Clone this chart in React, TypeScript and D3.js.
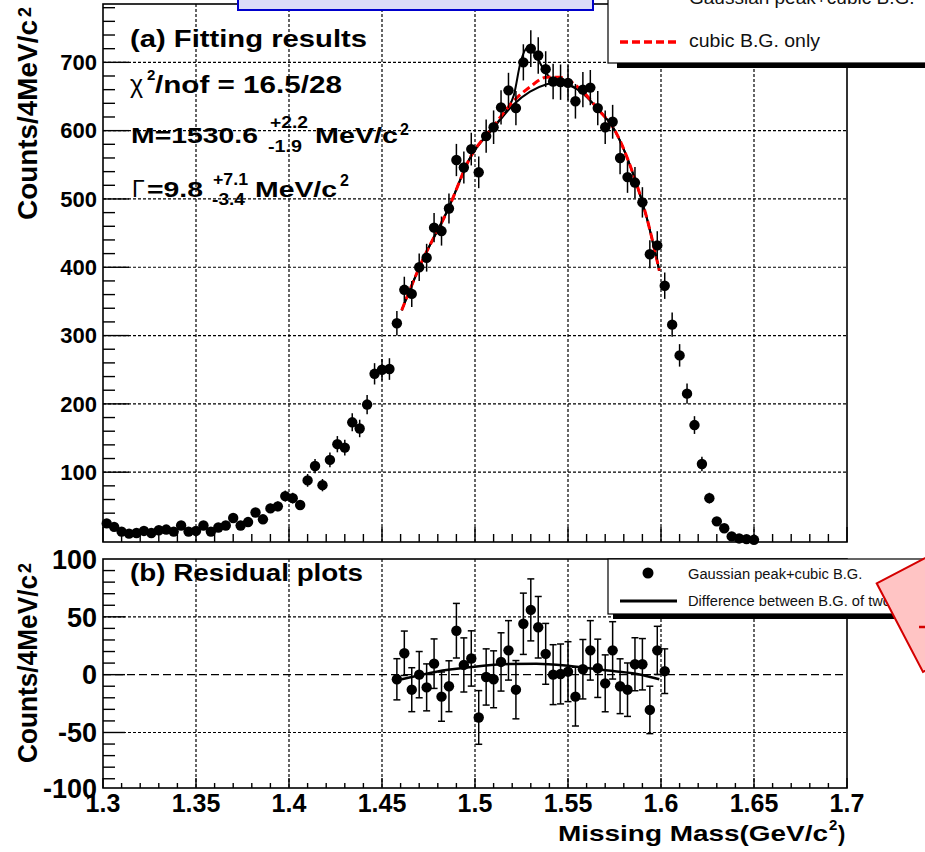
import React from "react";
import * as d3 from "d3";

// ---------------- data ----------------
const binCenters = [
  1.302, 1.306, 1.31, 1.314, 1.318, 1.322, 1.326, 1.33, 1.334, 1.338, 1.342, 1.346, 1.35, 1.354, 1.358,
  1.362, 1.366, 1.37, 1.374, 1.378, 1.382, 1.386, 1.39, 1.394, 1.398, 1.402, 1.406, 1.41, 1.414, 1.418,
  1.422, 1.426, 1.43, 1.434, 1.438, 1.442, 1.446, 1.45, 1.454, 1.458, 1.462, 1.466, 1.47, 1.474, 1.478,
  1.482, 1.486, 1.49, 1.494, 1.498, 1.502, 1.506, 1.51, 1.514, 1.518, 1.522, 1.526, 1.53, 1.534, 1.538,
  1.542, 1.546, 1.55, 1.554, 1.558, 1.562, 1.566, 1.57, 1.574, 1.578, 1.582, 1.586, 1.59, 1.594, 1.598,
  1.602, 1.606, 1.61, 1.614, 1.618, 1.622, 1.626, 1.63, 1.634, 1.638, 1.642, 1.646, 1.65,
];
const counts = [
  25, 20, 13, 10, 11, 14, 11, 15, 16, 13, 22, 13, 14, 22, 13,
  19, 22, 33, 22, 27, 41, 31, 47, 50, 65, 62, 52, 88, 109, 81,
  118, 141, 136, 173, 164, 199, 244, 250, 251, 318, 367, 361, 400, 414, 458,
  453, 486, 557, 546, 573, 539, 592, 605, 634, 659, 633, 700, 720, 710, 690,
  672, 671, 670, 643, 660, 663, 633, 605, 613, 560, 532, 524, 495, 419, 432,
  373, 316, 271, 215, 169, 112, 62, 28, 18, 6, 3, 2, 1,
];

const residualMass = [
  1.458, 1.462, 1.466, 1.47, 1.474, 1.478, 1.482, 1.486, 1.49, 1.494, 1.498, 1.502, 1.506, 1.51, 1.514,
  1.518, 1.522, 1.526, 1.53, 1.534, 1.538, 1.542, 1.546, 1.55, 1.554, 1.558, 1.562, 1.566, 1.57, 1.574,
  1.578, 1.582, 1.586, 1.59, 1.594, 1.598, 1.602,
];
const residuals = [
  -4, 18.5, -13, 0, -11, 9.5, -19, -10, 38, 8.4, 14, -37, -2, -4, 11,
  21, -13, 44, 56, 41, 18, 0, 0.6, 2.6, -19, 4.7, 21, 5.5, -7.5, 21,
  -10, -13, 9, 9, -30.5, 21, 3,
];
const residualErrors = [
  17.8, 19.2, 19.0, 20.0, 20.3, 21.4, 21.3, 22.0, 23.6, 23.4, 23.9, 23.2, 24.3, 24.6, 25.2,
  25.7, 25.2, 26.5, 26.8, 26.6, 26.3, 25.9, 25.9, 25.9, 25.4, 25.7, 25.7, 25.2, 24.6, 24.8,
  23.7, 23.1, 22.9, 22.2, 20.5, 20.8, 19.3,
];

// fit curves: [mass, counts]
const fitTotal: [number, number][] = [
  [1.4606, 337], [1.4704, 402], [1.4857, 486], [1.4973, 560], [1.5098, 605], [1.517, 630],
  [1.5209, 652], [1.5245, 700], [1.5285, 722], [1.5325, 711], [1.5366, 691], [1.541, 676],
  [1.5457, 671], [1.5565, 658], [1.5672, 628], [1.5744, 604], [1.5851, 536], [1.5923, 473], [1.5991, 395],
];
const fitBGofTotal: [number, number][] = [
  [1.4606, 337], [1.4704, 402], [1.4857, 486], [1.4973, 560], [1.5098, 603], [1.5206, 638],
  [1.5296, 657], [1.5385, 668], [1.5457, 671], [1.5565, 658], [1.5672, 628], [1.5744, 604],
  [1.5851, 536], [1.5923, 473], [1.5991, 395],
];
const fitBGOnly: [number, number][] = [
  [1.4606, 337], [1.4704, 402], [1.4857, 486], [1.4973, 560], [1.5098, 606], [1.5206, 643],
  [1.5296, 664], [1.5385, 678], [1.5457, 678], [1.5565, 661], [1.5672, 628], [1.5744, 604],
  [1.5851, 536], [1.5923, 473], [1.5991, 395],
];
const bgDifference: [number, number][] = [
  [1.4606, -4], [1.4793, 2.6], [1.4972, 6.4], [1.515, 9], [1.533, 9.5], [1.551, 7.5],
  [1.569, 4], [1.587, 0.6], [1.5991, -4],
];

const xTicks = [1.3, 1.35, 1.4, 1.45, 1.5, 1.55, 1.6, 1.65, 1.7];
const xTickLabels = ["1.3", "1.35", "1.4", "1.45", "1.5", "1.55", "1.6", "1.65", "1.7"];
const yTopTicks = [100, 200, 300, 400, 500, 600, 700];
const yBotTicks = [-100, -50, 0, 50, 100];

// ---------------- layout ----------------
const FONT = "'Liberation Sans', Arial, Helvetica, sans-serif";
const L = 103, R = 847;
const TT = 4, TB = 542;
const BT = 559, BB = 788;

const X = d3.scaleLinear().domain([1.3, 1.7]).range([L, R]);
const yT = d3.scaleLinear().domain([-2.2, 785.4]).range([TB, TT]);
const yB = d3.scaleLinear().domain([-98, 100]).range([BB, BT]);

const T = ({ x, y, fs, w, bold = true, anchor = "start", children, fill = "#000", family = FONT, transform }: any) => (
  <text
    x={x}
    y={y}
    fontSize={fs}
    fontWeight={bold ? "bold" : "normal"}
    textLength={w}
    lengthAdjust={w ? "spacingAndGlyphs" : undefined}
    textAnchor={anchor}
    fontFamily={family}
    fill={fill}
    transform={transform}
  >
    {children}
  </text>
);

export default function App() {
  const minorX = d3.range(0, 41).map((i) => 1.3 + i * 0.01);
  const minorTop = d3.range(1, 40).map((i) => i * 20);
  const minorBot = d3.range(-9, 10).map((i) => i * 10);
  const gridX = xTicks.slice(1, -1);

  const lineT = d3.line<[number, number]>().x((d) => X(d[0])).y((d) => yT(d[1])).curve(d3.curveMonotoneX);
  const lineB = d3.line<[number, number]>().x((d) => X(d[0])).y((d) => yB(d[1])).curve(d3.curveMonotoneX);

  const dot = "3,2";
  return (
    <svg
      width={925}
      height={852}
      style={{ position: "absolute", left: 0, top: 0, background: "#fff" }}
      fontFamily={FONT}
    >
      <rect x={0} y={0} width={925} height={852} fill="#fff" />

      {/* ===== top panel grid ===== */}
      {gridX.map((v) => (
        <line key={"gxt" + v} x1={X(v)} x2={X(v)} y1={TT} y2={TB} stroke="#000" strokeWidth={1.2} strokeDasharray={dot} />
      ))}
      {yTopTicks.map((v) => (
        <line key={"gyt" + v} x1={L} x2={R} y1={yT(v)} y2={yT(v)} stroke="#000" strokeWidth={1.2} strokeDasharray={dot} />
      ))}
      {/* ===== bottom panel grid ===== */}
      {gridX.map((v) => (
        <line key={"gxb" + v} x1={X(v)} x2={X(v)} y1={BT} y2={BB} stroke="#000" strokeWidth={1.2} strokeDasharray={dot} />
      ))}
      {[-50, 50].map((v) => (
        <line key={"gyb" + v} x1={L} x2={R} y1={yB(v)} y2={yB(v)} stroke="#000" strokeWidth={1.2} strokeDasharray={dot} />
      ))}
      <line x1={L} x2={R} y1={yB(0)} y2={yB(0)} stroke="#000" strokeWidth={1.3} strokeDasharray="8,4" />

      {/* ===== frames ===== */}
      <rect x={L} y={TT} width={R - L} height={TB - TT} fill="none" stroke="#000" strokeWidth={1.6} />
      <rect x={L} y={BT} width={R - L} height={BB - BT} fill="none" stroke="#000" strokeWidth={1.6} />

      {/* ===== ticks ===== */}
      {minorX.map((v, i) => {
        const major = i % 5 === 0;
        return (
          <g key={"tx" + i}>
            <line x1={X(v)} x2={X(v)} y1={TB} y2={TB - (major ? 15 : 8)} stroke="#000" strokeWidth={1.4} />
            <line x1={X(v)} x2={X(v)} y1={BB} y2={BB - (major ? 10 : 5)} stroke="#000" strokeWidth={1.4} />
          </g>
        );
      })}
      {minorTop.map((v) => (
        <line key={"tyt" + v} x1={L} x2={L + (v % 100 === 0 ? 26 : 12)} y1={yT(v)} y2={yT(v)} stroke="#000" strokeWidth={1.4} />
      ))}
      {minorBot.map((v) => (
        <line key={"tyb" + v} x1={L} x2={L + (v % 50 === 0 ? 22 : 12)} y1={yB(v)} y2={yB(v)} stroke="#000" strokeWidth={1.4} />
      ))}

      {/* ===== tick labels ===== */}
      {yTopTicks.map((v) => (
        <T key={"lyt" + v} x={97} y={yT(v) + 7.8} fs={22} anchor="end">
          {String(v)}
        </T>
      ))}
      {yBotTicks.map((v) => (
        <T key={"lyb" + v} x={97} y={Math.min(yB(v), BB) + 9.8} fs={27} anchor="end">
          {String(v)}
        </T>
      ))}
      {xTicks.map((v, i) => (
        <T key={"lx" + v} x={X(v)} y={812} fs={25} anchor="middle">
          {xTickLabels[i]}
        </T>
      ))}

      {/* ===== axis titles ===== */}
      <T x={0} y={0} fs={28} w={200} transform="translate(37,220) rotate(-90)">Counts/4MeV/c</T>
      <T x={0} y={0} fs={18} transform="translate(37,220) rotate(-90) translate(203,-6)">2</T>
      <T x={0} y={0} fs={28} w={188} transform="translate(37,763) rotate(-90)">Counts/4MeV/c</T>
      <T x={0} y={0} fs={18} transform="translate(37,763) rotate(-90) translate(190,-6)">2</T>
      <T x={558} y={841} fs={22} w={270}>Missing Mass(GeV/c</T>
      <T x={829} y={830} fs={15}>2</T>
      <T x={838} y={841} fs={22}>)</T>

      {/* ===== top panel fit curves ===== */}
      <path d={lineT(fitBGofTotal) || ""} fill="none" stroke="#000" strokeWidth={2} />
      <path d={lineT(fitTotal) || ""} fill="none" stroke="#000" strokeWidth={2} />
      <path d={lineT(fitBGOnly) || ""} fill="none" stroke="#ff0000" strokeWidth={3} strokeDasharray="8,4" />

      {/* ===== top panel data ===== */}
      {counts.map((c, i) => {
        const e = Math.sqrt(c);
        const cx = X(binCenters[i]);
        return (
          <g key={"pt" + i}>
            <line x1={cx} x2={cx} y1={yT(c + e)} y2={yT(c - e)} stroke="#000" strokeWidth={1.5} />
            <circle cx={cx} cy={yT(c)} r={5.2} fill="#000" />
          </g>
        );
      })}

      {/* ===== bottom panel ===== */}
      <path d={lineB(bgDifference) || ""} fill="none" stroke="#000" strokeWidth={2.5} />
      {residuals.map((r, i) => {
        const cx = X(residualMass[i]);
        const e = residualErrors[i];
        const y1 = yB(r + e), y2 = yB(r - e);
        return (
          <g key={"rs" + i}>
            <line x1={cx} x2={cx} y1={y1} y2={y2} stroke="#000" strokeWidth={1.5} />
            <line x1={cx - 3.5} x2={cx + 3.5} y1={y1} y2={y1} stroke="#000" strokeWidth={1.5} />
            <line x1={cx - 3.5} x2={cx + 3.5} y1={y2} y2={y2} stroke="#000" strokeWidth={1.5} />
            <circle cx={cx} cy={yB(r)} r={5.2} fill="#000" />
          </g>
        );
      })}

      {/* ===== panel texts ===== */}
      <T x={130} y={47} fs={24} w={237}>(a) Fitting results</T>
      <T x={130} y={93} fs={25} bold={false}>χ</T>
      <T x={147} y={80} fs={15}>2</T>
      <T x={155} y={93} fs={23} w={187}>/nof = 16.5/28</T>
      <T x={131} y={143} fs={22} w={127}>M=1530.6</T>
      <T x={270} y={128} fs={17} w={38}>+2.2</T>
      <T x={268} y={152} fs={17} w={34}>-1.9</T>
      <T x={315} y={143} fs={22} w={83}>MeV/c</T>
      <T x={400} y={135} fs={16}>2</T>
      <T x={132} y={197} fs={23} bold={false}>Γ</T>
      <T x={147} y={197} fs={22} w={56}>=9.8</T>
      <T x={213} y={185} fs={17} w={35}>+7.1</T>
      <T x={212} y={205} fs={17} w={33}>-3.4</T>
      <T x={255} y={197} fs={22} w={82}>MeV/c</T>
      <T x={340} y={186} fs={16}>2</T>
      <T x={130} y={581} fs={23} w={233}>(b) Residual plots</T>

      {/* ===== top legend ===== */}
      <rect x={617} y={20} width={320} height={48} fill="#000" />
      <rect x={608} y={-40} width={330} height={103} fill="#fff" stroke="#000" strokeWidth={1.2} />
      <line x1={620} x2={678} y1={-4} y2={-4} stroke="#000" strokeWidth={2.5} />
      <T x={689} y={3.5} fs={19} bold={false} fill="#111">Gaussian peak+cubic B.G.</T>
      <line x1={620} x2={678} y1={42} y2={42} stroke="#ff0000" strokeWidth={3.5} strokeDasharray="8,4" />
      <T x={689} y={47} fs={19} w={131} bold={false} fill="#111">cubic B.G. only</T>

      {/* ===== bottom legend ===== */}
      <rect x={613} y={590} width={320} height={29} fill="#000" />
      <rect x={608} y={BT} width={330} height={55} fill="#fff" stroke="#000" strokeWidth={1.2} />
      <circle cx={648} cy={573} r={5.5} fill="#000" />
      <T x={688} y={579} fs={14.7} bold={false} fill="#111">Gaussian peak+cubic B.G.</T>
      <line x1={620} x2={677} y1={601} y2={601} stroke="#000" strokeWidth={3} />
      <T x={688} y={606} fs={14.7} bold={false} fill="#111">Difference between B.G. of two fits</T>

      {/* ===== overlay boxes ===== */}
      <rect x={238} y={-10} width={355} height={20} fill="#dcdcf8" stroke="#0000cc" strokeWidth={2} />
      <polygon
        points="876.7,583.3 965,537.3 1011.3,626 923,672"
        fill="#ffc4c4"
        stroke="#d40000"
        strokeWidth={2}
      />
      <line x1={919} x2={926} y1={627} y2={627} stroke="#d40000" strokeWidth={2.5} />
    </svg>
  );
}
